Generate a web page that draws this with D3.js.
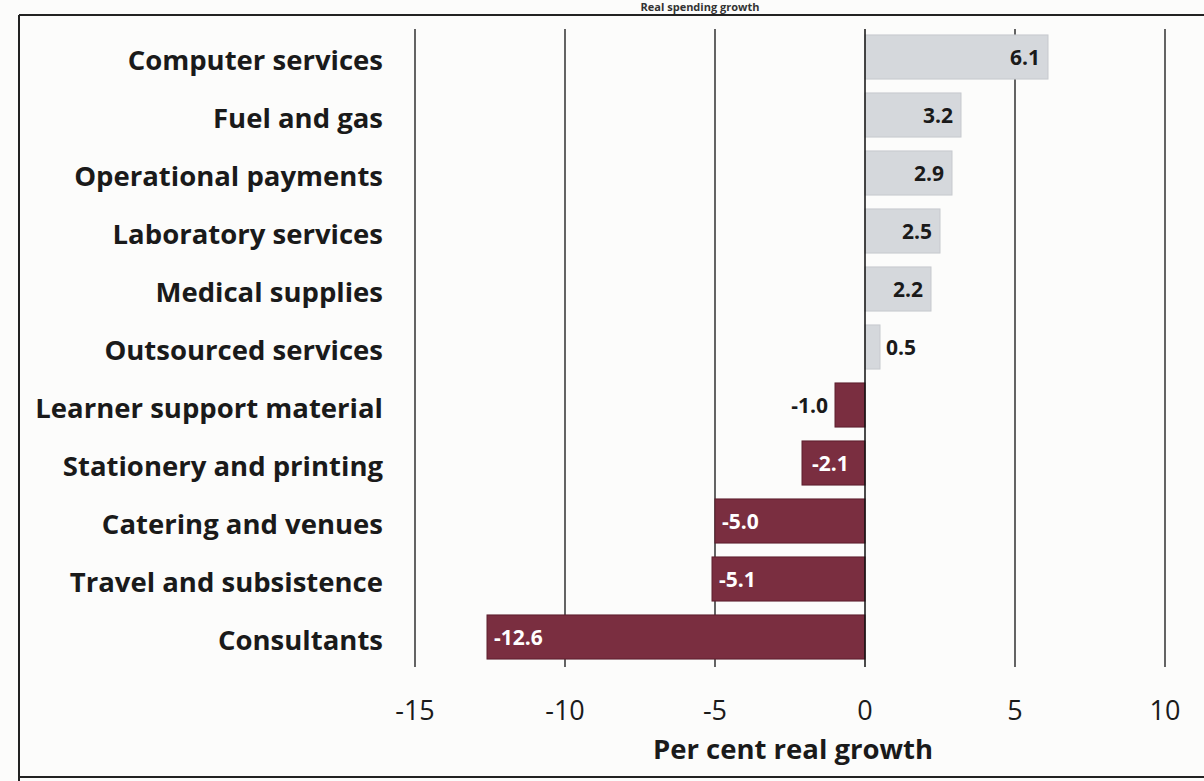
<!DOCTYPE html>
<html>
<head>
<meta charset="utf-8">
<script src="https://cdn.jsdelivr.net/npm/d3@7"></script>
<style>
  html, body { margin: 0; padding: 0; background: #fcfcfb; }
  svg { display: block; }
</style>
</head>
<body>
<svg id="chart" width="1204" height="781"></svg>
<script>
// Spending items and their real growth (per cent)
const categories = [
  "Computer services",
  "Fuel and gas",
  "Operational payments",
  "Laboratory services",
  "Medical supplies",
  "Outsourced services",
  "Learner support material",
  "Stationery and printing",
  "Catering and venues",
  "Travel and subsistence",
  "Consultants"
];
const growth = [6.1, 3.2, 2.9, 2.5, 2.2, 0.5, -1.0, -2.1, -5.0, -5.1, -12.6];
const tickValues = [-15, -10, -5, 0, 5, 10];
const xTitle = "Per cent real growth";
const chartTitle = "Real spending growth";

const svg = d3.select("#chart");
const font = "'Open Sans', 'Noto Sans', sans-serif";

const x = d3.scaleLinear().domain([-15, 10]).range([415, 1165]);
const y = d3.scaleBand().domain(categories).range([28, 666]).paddingInner(0.24).paddingOuter(0.12);

// Page frame
svg.append("line").attr("x1", 19).attr("x2", 1204).attr("y1", 15).attr("y2", 15)
  .attr("stroke", "#222").attr("stroke-width", 2);
svg.append("line").attr("x1", 19).attr("x2", 19).attr("y1", 15).attr("y2", 781)
  .attr("stroke", "#222").attr("stroke-width", 2);
svg.append("line").attr("x1", 19).attr("x2", 1204).attr("y1", 777).attr("y2", 777)
  .attr("stroke", "#222").attr("stroke-width", 2);

// Title above the frame
svg.append("text").attr("x", 700).attr("y", 11).attr("text-anchor", "middle")
  .attr("font-family", font).attr("font-weight", 700).attr("font-size", 11)
  .attr("fill", "#333").text(chartTitle);

// Vertical gridlines
svg.append("g").selectAll("line")
  .data(tickValues.filter(d => d !== 0))
  .join("line")
  .attr("x1", d => x(d)).attr("x2", d => x(d))
  .attr("y1", 29).attr("y2", 667)
  .attr("stroke", "#111").attr("stroke-width", 1.3);

// Bars
svg.append("g").selectAll("rect")
  .data(categories)
  .join("rect")
  .attr("x", (d, i) => x(Math.min(0, growth[i])))
  .attr("width", (d, i) => Math.abs(x(growth[i]) - x(0)))
  .attr("y", d => y(d))
  .attr("height", y.bandwidth())
  .attr("fill", (d, i) => growth[i] >= 0 ? "#d5d8dc" : "#7a2e40")
  .attr("stroke", (d, i) => growth[i] >= 0 ? "#c6c9ce" : "#5c1e2d")
  .attr("stroke-width", 1);

// Zero axis line
svg.append("line").attr("x1", x(0)).attr("x2", x(0)).attr("y1", 29).attr("y2", 667)
  .attr("stroke", "#111").attr("stroke-width", 1.5);

// Category labels
svg.append("g").selectAll("text")
  .data(categories)
  .join("text")
  .attr("x", 383)
  .attr("y", d => y(d) + y.bandwidth() / 2)
  .attr("dy", "0.48em")
  .attr("text-anchor", "end")
  .attr("font-family", font).attr("font-weight", 700).attr("font-size", 27.5)
  .attr("fill", "#1a1a1a")
  .text(d => d);

// Value labels
svg.append("g").selectAll("text")
  .data(categories)
  .join("text")
  .each(function (d, i) {
    const v = growth[i];
    const t = d3.select(this);
    const w = Math.abs(x(v) - x(0));
    let px, anchor, fill;
    if (v >= 0) {
      if (w > 40) { px = x(v) - 8; anchor = "end"; fill = "#1a1a1a"; }
      else { px = x(v) + 6; anchor = "start"; fill = "#1a1a1a"; }
    } else {
      if (w > 70) { px = x(v) + 7; anchor = "start"; fill = "#ffffff"; }
      else if (w > 45) { px = x(v) + w / 2 - 3; anchor = "middle"; fill = "#ffffff"; }
      else { px = x(v) - 7; anchor = "end"; fill = "#1a1a1a"; }
    }
    t.attr("x", px)
      .attr("y", y(d) + y.bandwidth() / 2)
      .attr("dy", "0.38em")
      .attr("text-anchor", anchor)
      .attr("fill", fill)
      .attr("font-family", font).attr("font-weight", 700).attr("font-size", 21)
      .text(v.toFixed(1));
  });

// Tick labels
svg.append("g").selectAll("text")
  .data(tickValues)
  .join("text")
  .attr("x", d => x(d))
  .attr("y", 710)
  .attr("dy", "0.36em")
  .attr("text-anchor", "middle")
  .attr("font-family", font).attr("font-size", 27)
  .attr("fill", "#1a1a1a")
  .text(d => d);

// Axis title
svg.append("text")
  .attr("x", 793).attr("y", 749).attr("dy", "0.36em")
  .attr("text-anchor", "middle")
  .attr("font-family", font).attr("font-weight", 700).attr("font-size", 27.5)
  .attr("fill", "#1a1a1a")
  .text(xTitle);
</script>
</body>
</html>
